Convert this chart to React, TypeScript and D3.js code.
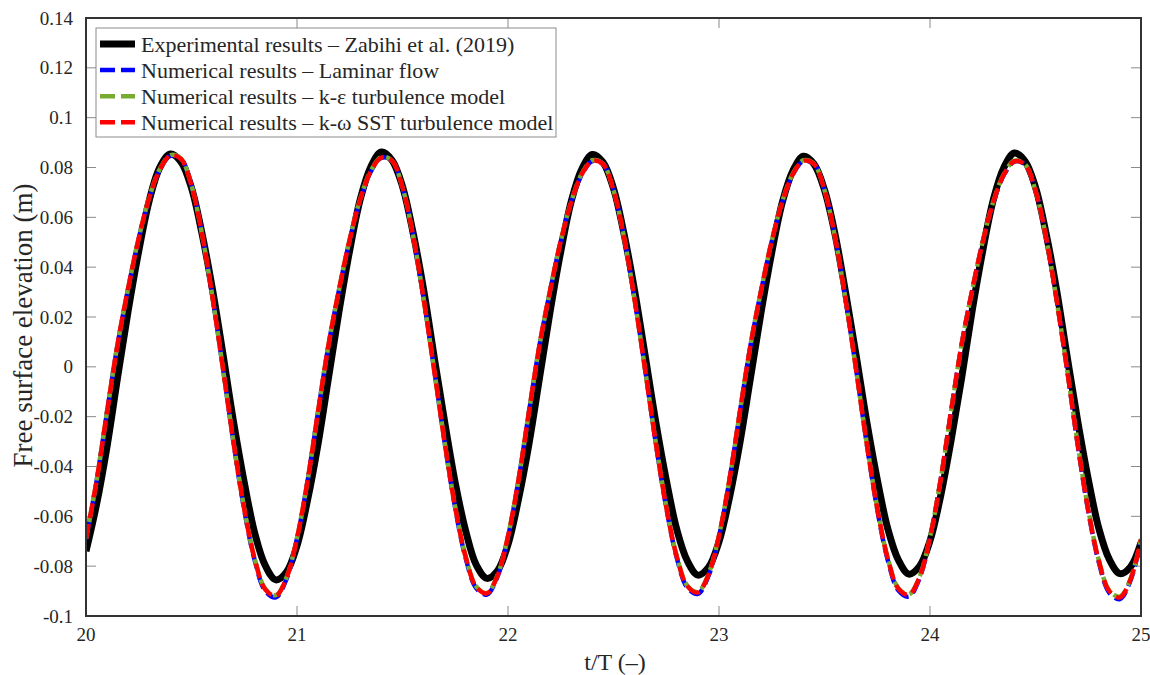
import * as d3 from "d3";

// time axis: samples every 0.05 t/T starting at 20
const tStart = 20;
const tStep = 0.05;

// Experimental results – Zabihi et al. (2019)
const experimental = [
  -0.0740, -0.0552, -0.0318, -0.0041, 0.0226, 0.0465, 0.0668, 0.0801, 0.0854, 0.0823, 0.0718, 0.0534, 0.0308, 0.0046, -0.0225, -0.0464, -0.0668, -0.0798, -0.0855, -0.0824,
  -0.0718, -0.0535, -0.0308, -0.0040, 0.0227, 0.0469, 0.0673, 0.0803, 0.0862, 0.0830, 0.0724, 0.0539, 0.0310, 0.0040, -0.0222, -0.0466, -0.0660, -0.0796, -0.0849, -0.0819,
  -0.0713, -0.0530, -0.0306, -0.0041, 0.0224, 0.0463, 0.0665, 0.0794, 0.0852, 0.0821, 0.0716, 0.0533, 0.0306, 0.0045, -0.0220, -0.0454, -0.0653, -0.0779, -0.0836, -0.0805,
  -0.0702, -0.0523, -0.0300, -0.0040, 0.0222, 0.0459, 0.0660, 0.0787, 0.0845, 0.0814, 0.0710, 0.0532, 0.0298, 0.0045, -0.0219, -0.0452, -0.0650, -0.0775, -0.0832, -0.0801,
  -0.0698, -0.0520, -0.0295, -0.0044, 0.0226, 0.0466, 0.0670, 0.0800, 0.0858, 0.0826, 0.0721, 0.0536, 0.0308, 0.0041, -0.0218, -0.0451, -0.0648, -0.0773, -0.0830, -0.0803, -0.0705,
];

// Numerical results – Laminar flow
const laminar = [
  -0.0692, -0.0460, -0.0180, 0.0091, 0.0315, 0.0515, 0.0678, 0.0791, 0.0847, 0.0835, 0.0728, 0.0535, 0.0279, -0.0010, -0.0309, -0.0574, -0.0778, -0.0900, -0.0925, -0.0852,
  -0.0690, -0.0459, -0.0180, 0.0090, 0.0312, 0.0510, 0.0672, 0.0784, 0.0839, 0.0827, 0.0721, 0.0530, 0.0276, -0.0010, -0.0305, -0.0568, -0.0770, -0.0889, -0.0914, -0.0842,
  -0.0683, -0.0454, -0.0178, 0.0089, 0.0307, 0.0503, 0.0661, 0.0772, 0.0826, 0.0814, 0.0710, 0.0522, 0.0272, -0.0010, -0.0304, -0.0565, -0.0767, -0.0886, -0.0911, -0.0839,
  -0.0681, -0.0452, -0.0177, 0.0089, 0.0307, 0.0503, 0.0661, 0.0772, 0.0826, 0.0814, 0.0710, 0.0522, 0.0272, -0.0010, -0.0308, -0.0572, -0.0776, -0.0897, -0.0922, -0.0849,
  -0.0688, -0.0457, -0.0179, 0.0089, 0.0306, 0.0501, 0.0660, 0.0770, 0.0824, 0.0812, 0.0708, 0.0521, 0.0271, -0.0010, -0.0312, -0.0579, -0.0784, -0.0907, -0.0932, -0.0858, -0.0696,
];

// Numerical results – k-ε turbulence model
const kEpsilon = [
  -0.0689, -0.0458, -0.0178, 0.0093, 0.0317, 0.0518, 0.0681, 0.0794, 0.0850, 0.0836, 0.0727, 0.0532, 0.0276, -0.0013, -0.0307, -0.0569, -0.0771, -0.0891, -0.0916, -0.0846,
  -0.0686, -0.0457, -0.0178, 0.0092, 0.0314, 0.0513, 0.0675, 0.0787, 0.0842, 0.0828, 0.0720, 0.0527, 0.0273, -0.0013, -0.0303, -0.0563, -0.0763, -0.0882, -0.0907, -0.0837,
  -0.0679, -0.0452, -0.0176, 0.0091, 0.0309, 0.0506, 0.0664, 0.0775, 0.0829, 0.0815, 0.0709, 0.0519, 0.0269, -0.0013, -0.0302, -0.0560, -0.0760, -0.0878, -0.0903, -0.0833,
  -0.0676, -0.0450, -0.0175, 0.0091, 0.0309, 0.0506, 0.0664, 0.0775, 0.0829, 0.0815, 0.0709, 0.0519, 0.0269, -0.0013, -0.0305, -0.0566, -0.0768, -0.0888, -0.0913, -0.0843,
  -0.0683, -0.0455, -0.0177, 0.0091, 0.0308, 0.0504, 0.0663, 0.0773, 0.0827, 0.0813, 0.0707, 0.0518, 0.0268, -0.0013, -0.0309, -0.0573, -0.0776, -0.0898, -0.0922, -0.0852, -0.0691,
];

// Numerical results – k-ω SST turbulence model
const kOmegaSST = [
  -0.0690, -0.0459, -0.0179, 0.0092, 0.0316, 0.0516, 0.0679, 0.0792, 0.0848, 0.0835, 0.0727, 0.0533, 0.0277, -0.0012, -0.0308, -0.0571, -0.0773, -0.0894, -0.0919, -0.0848,
  -0.0688, -0.0458, -0.0179, 0.0091, 0.0313, 0.0511, 0.0673, 0.0785, 0.0840, 0.0827, 0.0720, 0.0528, 0.0274, -0.0012, -0.0304, -0.0565, -0.0765, -0.0884, -0.0909, -0.0839,
  -0.0681, -0.0453, -0.0177, 0.0090, 0.0308, 0.0504, 0.0662, 0.0773, 0.0827, 0.0814, 0.0709, 0.0520, 0.0270, -0.0012, -0.0303, -0.0562, -0.0762, -0.0880, -0.0905, -0.0835,
  -0.0678, -0.0451, -0.0176, 0.0090, 0.0308, 0.0504, 0.0662, 0.0773, 0.0827, 0.0814, 0.0709, 0.0520, 0.0270, -0.0012, -0.0306, -0.0568, -0.0770, -0.0890, -0.0915, -0.0845,
  -0.0685, -0.0456, -0.0178, 0.0090, 0.0307, 0.0502, 0.0661, 0.0771, 0.0825, 0.0812, 0.0707, 0.0519, 0.0269, -0.0012, -0.0310, -0.0575, -0.0778, -0.0900, -0.0925, -0.0854, -0.0693,
];

const xTicks = [20, 21, 22, 23, 24, 25];
const yTicks = [-0.1, -0.08, -0.06, -0.04, -0.02, 0, 0.02, 0.04, 0.06, 0.08, 0.1, 0.12, 0.14];

const legendLabels = [
  "Experimental results – Zabihi et al. (2019)",
  "Numerical results – Laminar flow",
  "Numerical results – k-ε turbulence model",
  "Numerical results – k-ω SST turbulence model",
];

const W = 1150, H = 675;
const left = 86, right = 1141, top = 18, bottom = 616;
const font = "Liberation Serif, Times New Roman, serif";
const textColor = "#262626";

type Pt = [number, number];

export default function App() {
  const x = d3.scaleLinear().domain([20, 25]).range([left, right]);
  const y = d3.scaleLinear().domain([-0.1, 0.14]).range([bottom, top]);

  const toPts = (arr: number[]): Pt[] => arr.map((v, i) => [tStart + i * tStep, v]);
  const line = d3
    .line<Pt>()
    .x((d) => x(d[0]))
    .y((d) => y(d[1]))
    .curve(d3.curveCatmullRom.alpha(0.5));

  const series = [
    { data: experimental, color: "#000000", width: 7, dash: undefined, offset: 0 },
    { data: laminar, color: "#0000ff", width: 4.5, dash: "15 6", offset: 10 },
    { data: kEpsilon, color: "#77ac30", width: 4.5, dash: "15 6", offset: 4 },
    { data: kOmegaSST, color: "#ff0000", width: 4.5, dash: "15 6", offset: 0 },
  ];

  const fmtY = (v: number) => (v === 0 ? "0" : String(+v.toFixed(2)));
  const txt = { fontFamily: font, fill: textColor } as const;

  return (
    <div style={{ position: "absolute", left: 0, top: 0 }}>
      <svg width={W} height={H} style={{ display: "block", background: "#fff" }}>
        <defs>
          <clipPath id="plotClip">
            <rect x={left} y={top} width={right - left} height={bottom - top} />
          </clipPath>
        </defs>

        {/* ticks, inward on all four sides */}
        <g stroke="#8a8a8a" strokeWidth={1}>
          {yTicks.map((t) => (
            <g key={"y" + t}>
              <line x1={left} x2={left + 10} y1={y(t)} y2={y(t)} />
              <line x1={right} x2={right - 10} y1={y(t)} y2={y(t)} />
            </g>
          ))}
          {xTicks.map((t) => (
            <g key={"x" + t}>
              <line x1={x(t)} x2={x(t)} y1={bottom} y2={bottom - 10} />
              <line x1={x(t)} x2={x(t)} y1={top} y2={top + 10} />
            </g>
          ))}
        </g>

        {/* curves */}
        <g clipPath="url(#plotClip)" fill="none">
          {series.map((s, i) => (
            <path
              key={i}
              d={line(toPts(s.data)) ?? ""}
              stroke={s.color}
              strokeWidth={s.width}
              strokeDasharray={s.dash}
              strokeDashoffset={s.offset}
              strokeLinejoin="round"
            />
          ))}
        </g>

        {/* frame */}
        <rect x={left} y={top} width={right - left} height={bottom - top} fill="none" stroke="#333" strokeWidth={2} />

        {/* tick labels */}
        {yTicks.map((t) => (
          <text key={"yl" + t} x={73} y={y(t) + 6.5} textAnchor="end" fontSize={19} style={txt}>
            {fmtY(t)}
          </text>
        ))}
        {xTicks.map((t) => (
          <text key={"xl" + t} x={x(t)} y={641} textAnchor="middle" fontSize={19} style={txt}>
            {t}
          </text>
        ))}

        {/* axis labels */}
        <text x={615} y={670} textAnchor="middle" fontSize={24} style={txt}>
          t/T (–)
        </text>
        <text
          transform={`translate(31.5,325.5) rotate(-90)`}
          textAnchor="middle"
          fontSize={27}
          style={txt}
        >
          Free surface elevation (m)
        </text>

        {/* legend */}
        <g>
          <rect x={96} y={28} width={460} height={109} fill="#fff" stroke="#8c8c8c" strokeWidth={1} />
          {legendLabels.map((lab, i) => {
            const base = 51.5 + i * 26.1;
            const s = series[i];
            return (
              <g key={lab}>
                <line
                  x1={100}
                  x2={135}
                  y1={base - 7.5}
                  y2={base - 7.5}
                  stroke={s.color}
                  strokeWidth={i === 0 ? 7 : 4.5}
                  strokeDasharray={s.dash}
                />
                <text x={141} y={base} fontSize={22} style={txt}>
                  {lab}
                </text>
              </g>
            );
          })}
        </g>
      </svg>
    </div>
  );
}
